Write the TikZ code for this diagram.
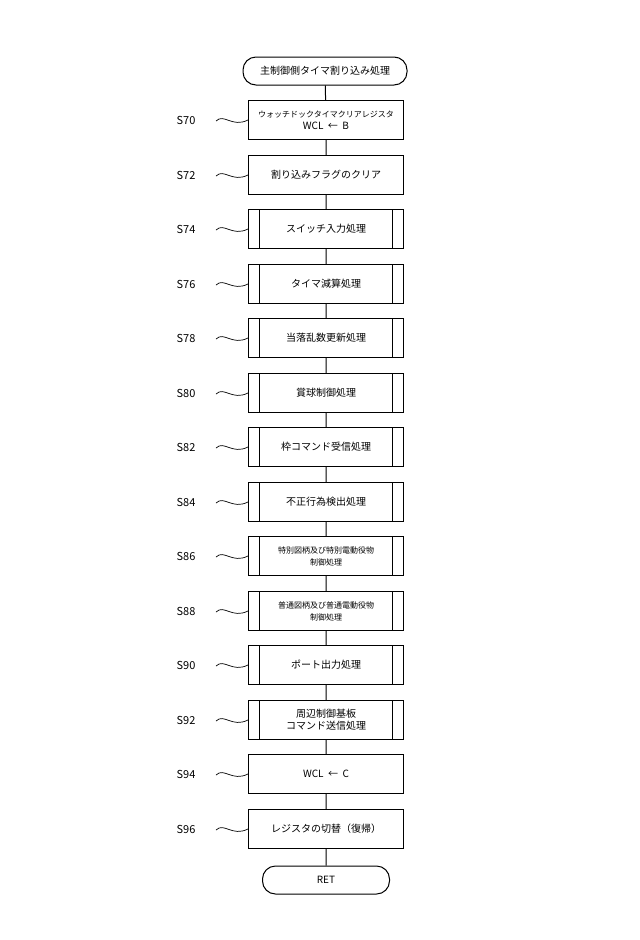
\documentclass[tikz,border=0pt]{standalone}
\usepackage{fontspec}
\setmainfont{Noto Sans CJK JP}
\begin{document}
\begin{tikzpicture}[x=1pt,y=-1pt,
  box/.style={draw,line width=1pt,minimum width=155pt,minimum height=39pt,inner sep=1pt,align=center,font=\fontsize{10}{12}\selectfont},
  sub/.style={box,path picture={\draw[line width=1pt] ([xshift=11pt]path picture bounding box.north west)--([xshift=11pt]path picture bounding box.south west);
     \draw[line width=1pt] ([xshift=-11pt]path picture bounding box.north east)--([xshift=-11pt]path picture bounding box.south east);}},
  term/.style={draw,line width=1pt,rounded corners=13pt,minimum height=28pt,inner sep=1pt,font=\fontsize{10}{12}\selectfont},
  lab/.style={font=\fontsize{11}{13}\selectfont}]
\useasboundingbox (0,0) rectangle (640,940);
\node[term,minimum width=164pt] (T) at (325,71) {主制御側タイマ割り込み処理};
\node[box] (s70) at (326,120) {{\fontsize{8}{10}\selectfont ウォッチドックタイマクリアレジスタ}\\WCL\ \ ← \ B};
\node[box] (s72) at (326,175) {割り込みフラグのクリア};
\node[sub] (s74) at (326,229) {スイッチ入力処理};
\node[sub] (s76) at (326,284) {タイマ減算処理};
\node[sub] (s78) at (326,338) {当落乱数更新処理};
\node[sub] (s80) at (326,393) {賞球制御処理};
\node[sub] (s82) at (326,447) {枠コマンド受信処理};
\node[sub] (s84) at (326,502) {不正行為検出処理};
\node[sub] (s86) at (326,556) {{\fontsize{8}{10}\selectfont 特別図柄及び特別電動役物}\\{\fontsize{8}{10}\selectfont 制御処理}};
\node[sub] (s88) at (326,611) {{\fontsize{8}{10}\selectfont 普通図柄及び普通電動役物}\\{\fontsize{8}{10}\selectfont 制御処理}};
\node[sub] (s90) at (326,665) {ポート出力処理};
\node[sub] (s92) at (326,720) {周辺制御基板\\コマンド送信処理};
\node[box] (s94) at (326,774) {WCL\ \ ← \ C};
\node[box] (s96) at (326,829) {レジスタの切替（復帰）};
\node[term,minimum width=127pt] (R) at (326,880) {RET};
\draw[line width=1pt] (T)--(s70)--(s72)--(s74)--(s76)--(s78)--(s80)--(s82)--(s84)--(s86)--(s88)--(s90)--(s92)--(s94)--(s96)--(R);
\foreach \n/\y in {70/120,72/175,74/229,76/284,78/338,80/393,82/447,84/502,86/556,88/611,90/665,92/720,94/774,96/829}{
  \node[lab] (l\n) at (186,\y) {S\n};
  \draw[line width=0.7pt] (216,\y+1) .. controls (224,\y-7) and (232,\y+8) .. (s\n.west);
}
\end{tikzpicture}
\end{document}
